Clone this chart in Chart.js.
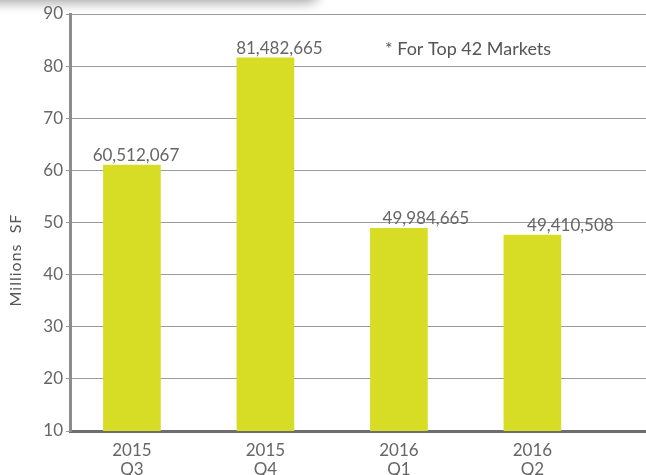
<!DOCTYPE html>
<html>
<head>
<meta charset="utf-8">
<script src="https://cdn.jsdelivr.net/npm/chart.js@4.4.1/dist/chart.umd.min.js"></script>
<style>
    body { margin: 0; background: #fff; }
    #wrap { position: relative; width: 646px; height: 475px; overflow: hidden; }
    #shade {
        position: absolute; left: -30px; top: -40px; width: 350px; height: 40px;
        background: #fff; border-radius: 0 0 14px 14px;
        box-shadow: 0 3px 12px rgba(0, 0, 0, 0.35);
    }
    #chart { position: absolute; left: 0; top: 0; }
</style>
</head>
<body>
<div id="wrap">
    <div id="shade"></div>
    <canvas id="chart" width="646" height="475"></canvas>
</div>
<script>
// dados
const years = ['2015', '2015', '2016', '2016'];
const quarters = ['Q3', 'Q4', 'Q1', 'Q2'];
const barValues = [61.0, 81.6, 48.9, 47.6];          // milhoes SF (altura das barras)
const valueLabels = ['60,512,067', '81,482,665', '49,984,665', '49,410,508'];
const yTicks = [10, 20, 30, 40, 50, 60, 70, 80, 90];
const note = '* For Top 42 Markets';
const axisTitle = 'Millions  SF';

// ajustes de estilo (nao sao dados)
const labelNudge = [4, 14, 27, 38];
const BAR_COLOR = '#d6dd24';
const TEXT = '#666666';

Chart.defaults.font.family = 'Lato, "Open Sans", sans-serif';

const overlayText = {
    id: 'overlayText',
    afterDatasetsDraw(chart) {
        const ctx = chart.ctx;
        const meta = chart.getDatasetMeta(0);
        ctx.save();
        ctx.font = '17px Lato';
        ctx.fillStyle = TEXT;
        ctx.textAlign = 'center';
        ctx.textBaseline = 'alphabetic';
        meta.data.forEach((bar, i) => {
            ctx.fillText(valueLabels[i], bar.x + labelNudge[i], bar.y - 4);
        });

        // nota no canto superior
        ctx.font = '18px Lato';
        ctx.fillStyle = '#555';
        ctx.textAlign = 'left';
        ctx.fillText(note, 385, 55);

        // titulo do eixo y
        ctx.translate(16, 260);
        ctx.rotate(-Math.PI / 2);
        ctx.textAlign = 'center';
        ctx.textBaseline = 'middle';
        ctx.font = '16px Lato';
        ctx.letterSpacing = '1px';
        ctx.fillText(axisTitle, 0, 0);
        ctx.restore();
    }
};

new Chart(document.getElementById('chart'), {
    type: 'bar',
    data: {
        datasets: [{
            data: barValues.map((v, i) => ({ x: i, y: v })),
            backgroundColor: BAR_COLOR,
            borderWidth: 0,
            barThickness: 57
        }]
    },
    options: {
        responsive: false,
        animation: false,
        layout: { padding: { top: 14, right: 0, left: 0, bottom: 0 } },
        plugins: {
            legend: { display: false },
            tooltip: { enabled: false }
        },
        scales: {
            x: {
                type: 'linear',
                offset: false,
                min: -0.464,
                max: 3.851,
                afterBuildTicks: s => { s.ticks = years.map((y, i) => ({ value: i })); },
                afterFit: s => { s.height = 44; },
                grid: { display: false, offset: false },
                border: { display: true, color: '#6e6e6e', width: 3 },
                ticks: {
                    padding: 2,
                    color: TEXT,
                    font: { size: 17, lineHeight: 1.1 },
                    maxRotation: 0,
                    callback: v => [years[Math.round(v)], quarters[Math.round(v)]]
                }
            },
            y: {
                min: yTicks[0],
                max: yTicks[yTicks.length - 1],
                afterBuildTicks: s => { s.ticks = yTicks.map(v => ({ value: v })); },
                afterFit: s => { s.width = 70; },
                grid: { color: '#9a9a9a', lineWidth: 1, tickLength: 4 },
                border: { display: true, color: '#8c8c8c', width: 3 },
                ticks: {
                    padding: 3,
                    color: TEXT,
                    font: { size: 17 }
                }
            }
        }
    },
    plugins: [overlayText]
});
</script>
</body>
</html>
